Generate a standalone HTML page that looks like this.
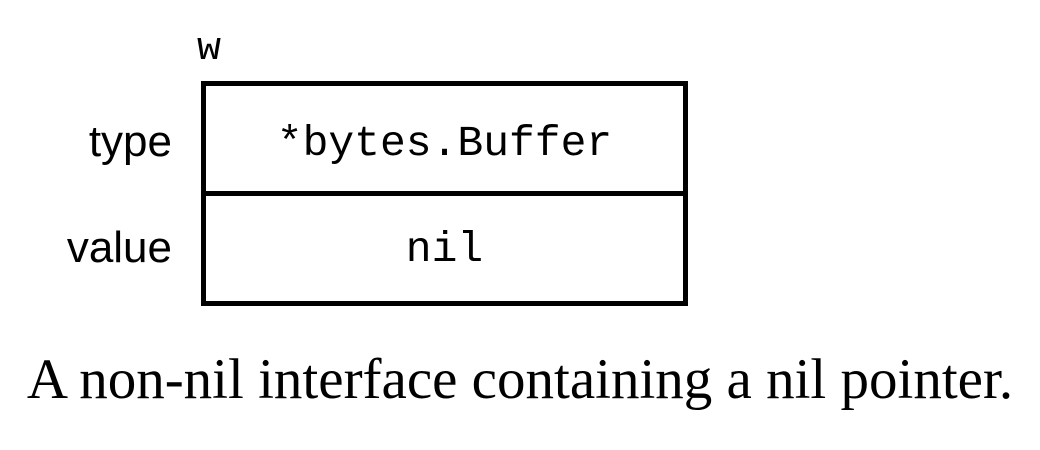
<!DOCTYPE html>
<html><head><meta charset="utf-8"><style>
html,body{margin:0;padding:0;background:#fff;}
body{width:1040px;height:450px;position:relative;overflow:hidden;}
.t{position:absolute;white-space:nowrap;color:#000;}
.mono{font-family:"Liberation Mono",monospace;}
.sans{font-family:"Liberation Sans",sans-serif;}
.box{position:absolute;border:5px solid #000;box-sizing:border-box;}
</style></head><body>
<div class="t mono" style="left:197px;top:28px;font-size:40px;line-height:44px;">w</div>
<div class="box" style="left:201px;top:81px;width:487px;height:225px;"></div>
<div style="position:absolute;left:201px;top:191px;width:487px;height:5px;background:#000;"></div>
<div class="t sans" style="right:868px;top:116px;font-size:44px;line-height:52px;">type</div>
<div class="t sans" style="right:868px;top:222px;font-size:44px;line-height:52px;">value</div>
<div class="t mono" style="left:201px;width:487px;text-align:center;top:118px;font-size:43px;line-height:52px;">*bytes.Buffer</div>
<div class="t mono" style="left:201px;width:487px;text-align:center;top:224px;font-size:43px;line-height:52px;">nil</div>
<div class="t" style="left:0;width:1040px;text-align:center;top:347px;font-family:'Liberation Serif',serif;font-size:57px;line-height:66px;">A non-nil interface containing a nil pointer.</div>
</body></html>
